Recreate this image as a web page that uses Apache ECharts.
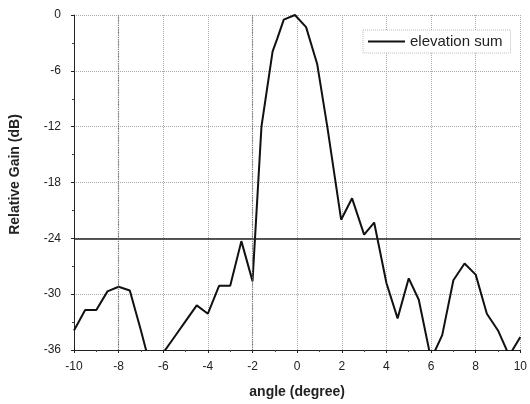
<!DOCTYPE html>
<html>
<head>
<meta charset="utf-8">
<script src="https://cdn.jsdelivr.net/npm/echarts@6/dist/echarts.min.js"></script>
<style>
html,body{margin:0;padding:0;background:#fff;}
#chart{width:530px;height:404px;}
</style>
</head>
<body>
<div id="chart"></div>
<script>
// angle (degree)
var angles = [-10, -9.5, -9, -8.5, -8, -7.5, -7, -6.5, -6, -5.5, -5, -4.5, -4, -3.5, -3, -2.5, -2,
  -1.6, -1.1, -0.9, -0.6, -0.1, 0.4, 0.9, 1.35, 1.97, 2.46, 3, 3.45, 4, 4.5, 5, 5.45, 6, 6.5, 7, 7.5, 8, 8.5, 9, 9.5, 10];
// relative gain (dB)
var gains = [-33.9, -31.7, -31.7, -29.7, -29.2, -29.6, -33.9, -38.5, -36.3, -34.6, -32.9, -31.2, -32.1, -29.1, -29.1, -24.3, -28.6,
  -12, -3.9, -2.6, -0.5, 0, -1.3, -5.3, -12, -22, -19.7, -23.6, -22.3, -28.8, -32.6, -28.3, -30.6, -37, -34.4, -28.5, -26.7, -27.9, -32.1, -33.9, -36.6, -34.6];
var seriesName = 'elevation sum';
var refLevel = -24;
var darkGridAngles = [-8, -2];

var data = angles.map(function (a, i) { return [a, gains[i]]; });
var chart = echarts.init(document.getElementById('chart'));
var font = 'Liberation Sans, Arial, sans-serif';
var markData = [{ yAxis: refLevel, lineStyle: { color: '#222', type: 'solid', width: 1.5 } }];
darkGridAngles.forEach(function (a) {
  markData.push({ xAxis: a, lineStyle: { color: '#777', type: 'dotted', width: 1.2 } });
});
chart.setOption({
  animation: false,
  backgroundColor: '#fff',
  grid: { left: 74, right: 6, top: 15, bottom: 54, containLabel: false },
  legend: {
    left: 363, top: 30,
    padding: [4, 8, 4, 5],
    itemWidth: 37, itemHeight: 2, itemGap: 4,
    icon: 'rect',
    borderColor: '#bbb', borderWidth: 1, borderType: 'dotted',
    backgroundColor: '#fff',
    textStyle: { fontFamily: font, fontSize: 15, color: '#222' },
    data: [seriesName]
  },
  xAxis: {
    type: 'value', min: -10, max: 10, interval: 2,
    name: 'angle (degree)', nameLocation: 'middle', nameGap: 35,
    nameTextStyle: { fontFamily: font, fontSize: 14, fontWeight: 'bold', color: '#222' },
    axisLine: { show: true, onZero: false, lineStyle: { color: '#222', width: 1 } },
    axisTick: { show: true, length: 3, lineStyle: { color: '#222' } },
    minorTick: { show: true, splitNumber: 2, length: 2, lineStyle: { color: '#444' } },
    axisLabel: { fontFamily: font, fontSize: 12, color: '#222', margin: 11 },
    splitLine: { show: true, lineStyle: { color: '#aaa', type: 'dotted', width: 1 } }
  },
  yAxis: {
    type: 'value', min: -36, max: 0, interval: 6,
    name: 'Relative Gain (dB)', nameLocation: 'middle', nameGap: 52,
    nameTextStyle: { fontFamily: font, fontSize: 14, fontWeight: 'bold', color: '#222', padding: [0, 0, 0, 16] },
    axisLine: { show: true, onZero: false, lineStyle: { color: '#222', width: 1 } },
    axisTick: { show: true, length: 3, lineStyle: { color: '#222' } },
    minorTick: { show: true, splitNumber: 2, length: 2, lineStyle: { color: '#444' } },
    axisLabel: { fontFamily: font, fontSize: 12, color: '#222', margin: 13 },
    splitLine: { show: true, lineStyle: { color: '#aaa', type: 'dotted', width: 1 } }
  },
  series: [{
    name: seriesName,
    type: 'line',
    data: data,
    showSymbol: false,
    symbol: 'none',
    clip: true,
    lineStyle: { color: '#111', width: 2 },
    itemStyle: { color: '#111' },
    markLine: {
      silent: true,
      symbol: 'none',
      label: { show: false },
      data: markData
    }
  }]
});
</script>
</body>
</html>
